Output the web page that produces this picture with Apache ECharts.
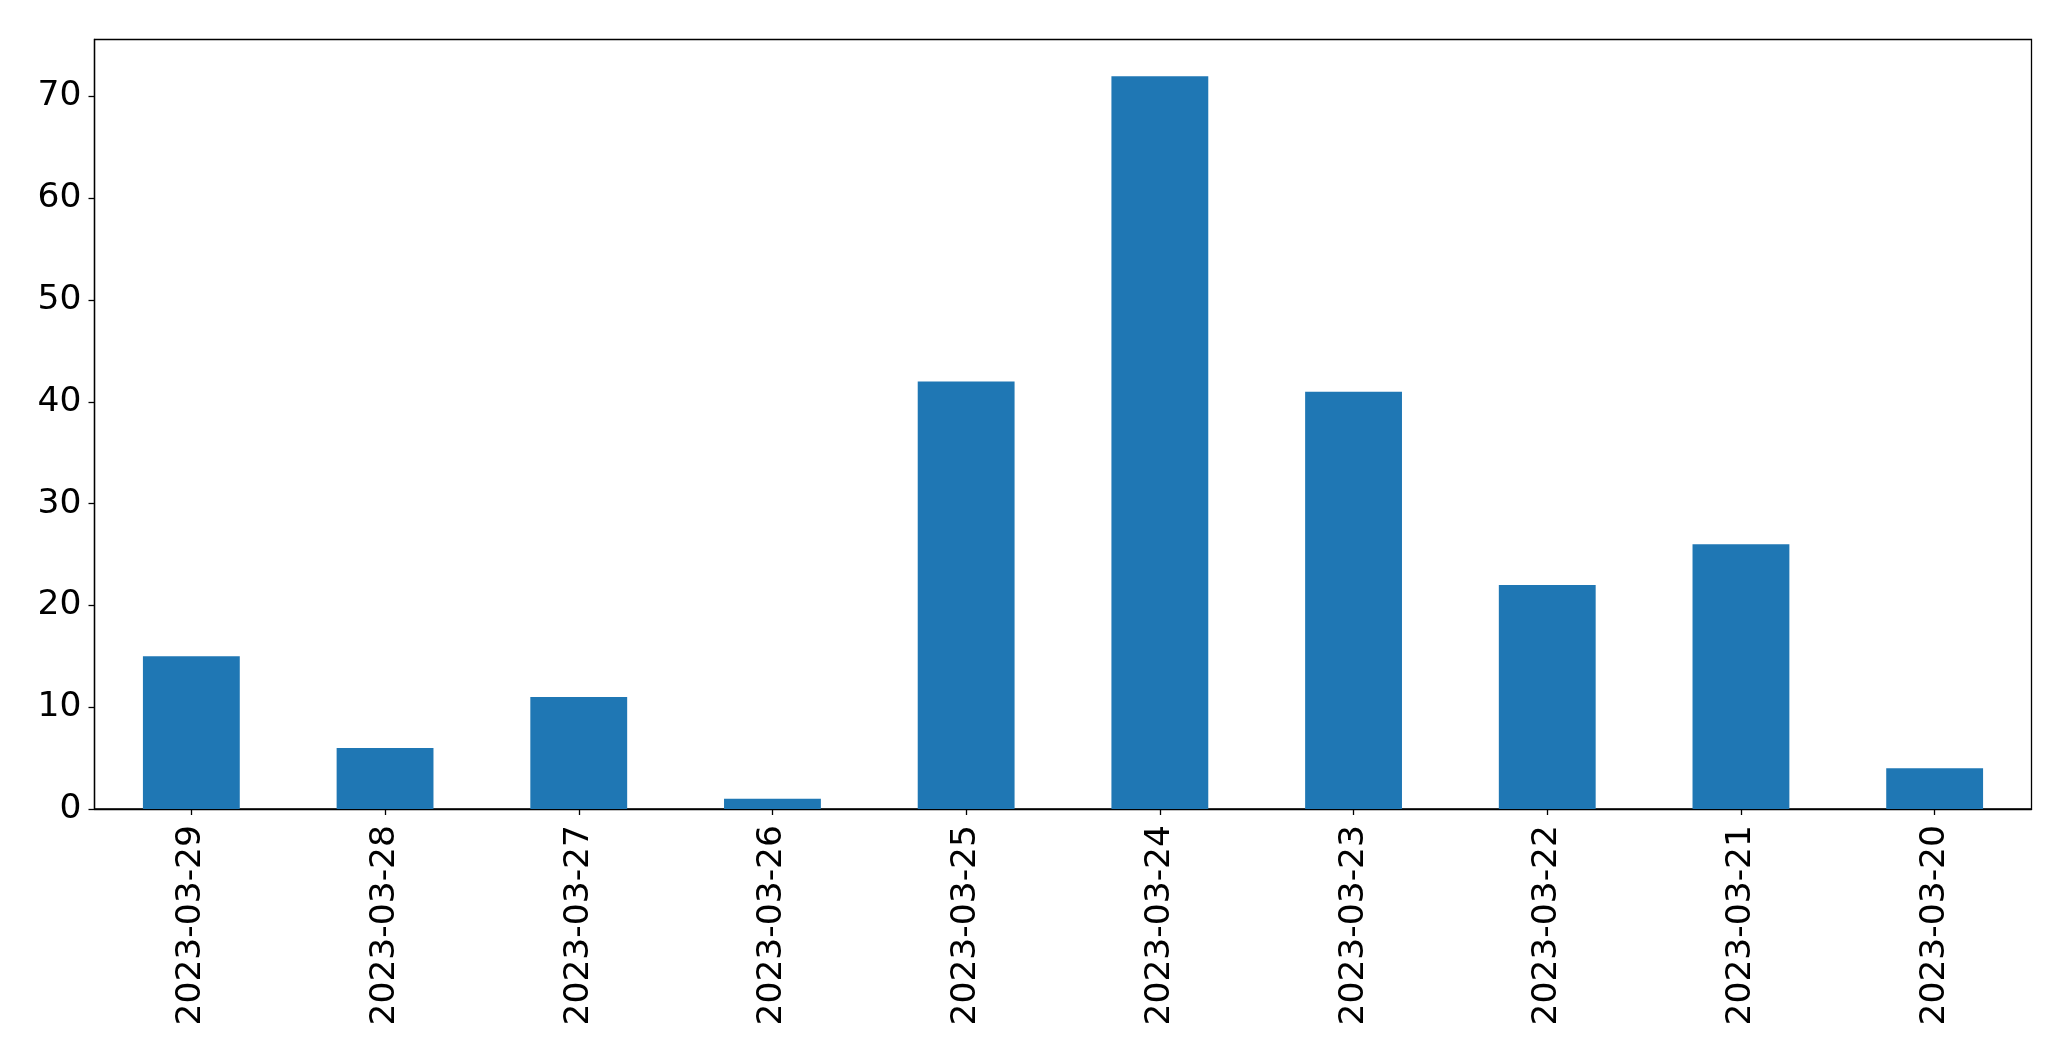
<!DOCTYPE html>
<html>
<head>
<meta charset="utf-8">
<script src="https://cdn.jsdelivr.net/npm/echarts@6/dist/echarts.min.js"></script>
<style>html,body{margin:0;padding:0;background:#fff;}#c{width:2071px;height:1061px;}</style>
</head>
<body>
<div id="c"></div>
<script>
const categories = ['2023-03-29','2023-03-28','2023-03-27','2023-03-26','2023-03-25','2023-03-24','2023-03-23','2023-03-22','2023-03-21','2023-03-20'];
const values = [15, 6, 11, 1, 42, 72, 41, 22, 26, 4];
const yTicks = [0, 10, 20, 30, 40, 50, 60, 70];

const chart = echarts.init(document.getElementById('c'), null, {renderer: 'canvas'});
const font = 'DejaVu Sans';
chart.setOption({
  animation: false,
  backgroundColor: '#ffffff',
  grid: {left: 94.5, right: 39.5, top: 39.5, bottom: 252, show: true, borderColor: '#000', borderWidth: 1.3, backgroundColor: 'transparent'},
  xAxis: {
    type: 'category',
    data: categories,
    axisLine: {show: true, lineStyle: {color: '#000', width: 1.3}},
    axisTick: {show: true, alignWithLabel: true, length: 6, lineStyle: {color: '#000', width: 1.3}},
    axisLabel: {rotate: 90, margin: 16, color: '#000', fontSize: 34.5, fontFamily: font, interval: 0},
    splitLine: {show: false}
  },
  yAxis: {
    type: 'value',
    min: 0,
    max: 75.6,
    interval: 10,
    axisLine: {show: true, lineStyle: {color: '#000', width: 1.3}},
    axisTick: {show: true, length: 6, lineStyle: {color: '#000', width: 1.3}},
    axisLabel: {margin: 13, color: '#000', fontSize: 34.5, fontFamily: font, showMaxLabel: false,
      formatter: v => yTicks.includes(v) ? String(v) : ''},
    splitLine: {show: false}
  },
  series: [{
    type: 'bar',
    data: values,
    barWidth: '50%',
    itemStyle: {color: '#1f77b4'}
  }]
});
</script>
</body>
</html>
